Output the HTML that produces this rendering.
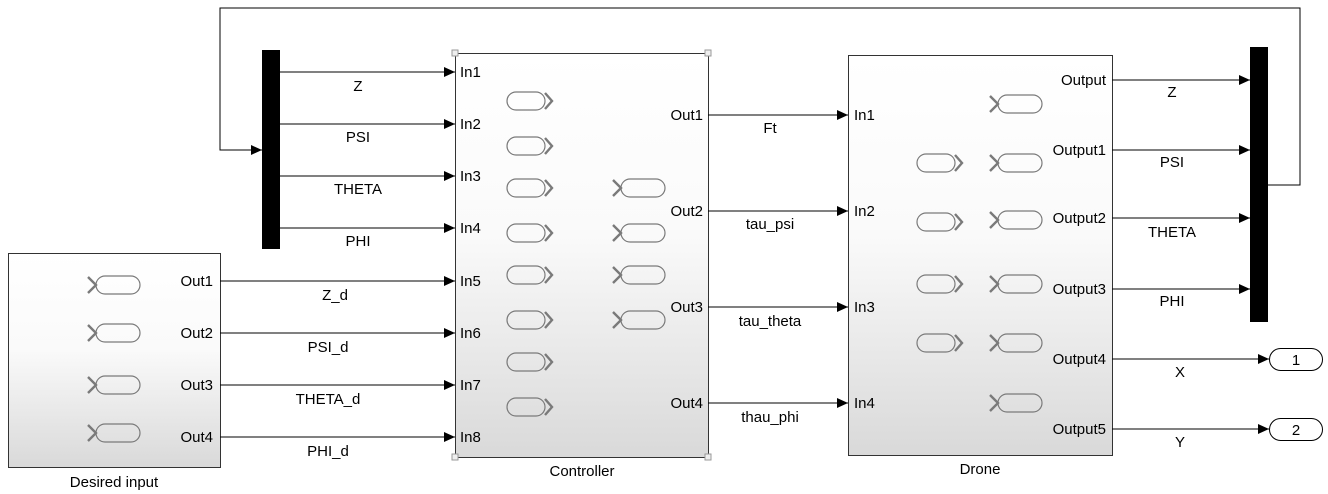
<!DOCTYPE html>
<html><head><style>
html,body{margin:0;padding:0;background:#fff;}
svg{display:block;font-family:"Liberation Sans",Arial,sans-serif;}
</style></head><body>
<svg width="1328" height="494" viewBox="0 0 1328 494" xmlns="http://www.w3.org/2000/svg">
<defs>
<linearGradient id="g" x1="0" y1="0" x2="0" y2="1">
<stop offset="0" stop-color="#fff"/><stop offset="0.45" stop-color="#fafafa"/><stop offset="1" stop-color="#d9d9d9"/>
</linearGradient>
<marker id="ar" markerWidth="12" markerHeight="10" refX="11" refY="5" orient="auto" markerUnits="userSpaceOnUse">
<path d="M0,0 L11,5 L0,10 Z" fill="#000"/></marker>
<g id="A"><rect x="0" y="-9" width="38" height="18" rx="9" fill="none" stroke="#7a7a7a" stroke-width="1.2"/><polyline points="38,-8 45,0 38,8" fill="none" stroke="#7a7a7a" stroke-width="2.4"/></g>
<g id="B"><polyline points="0,-8 8,0 0,8" fill="none" stroke="#7a7a7a" stroke-width="2.4"/><rect x="8" y="-9" width="44" height="18" rx="9" fill="none" stroke="#7a7a7a" stroke-width="1.2"/></g>
</defs>

<rect x="8.5" y="253.5" width="212" height="214" fill="url(#g)" stroke="#333" stroke-width="1"/>
<rect x="455.5" y="53.5" width="253" height="404" fill="url(#g)" stroke="#333" stroke-width="1"/>
<rect x="848.5" y="55.5" width="264" height="400" fill="url(#g)" stroke="#333" stroke-width="1"/>
<g fill="#eee" stroke="#999" stroke-width="1">
<rect x="452" y="50" width="6" height="6"/><rect x="705" y="50" width="6" height="6"/>
<rect x="452" y="454" width="6" height="6"/><rect x="705" y="454" width="6" height="6"/>
</g>
<rect x="262" y="50" width="18" height="199" fill="#000"/>
<rect x="1250" y="47" width="18" height="275" fill="#000"/>

<use href="#B" x="88" y="285"/><use href="#B" x="88" y="333"/><use href="#B" x="88" y="385"/><use href="#B" x="88" y="433"/>
<use href="#A" x="507" y="101"/><use href="#A" x="507" y="146"/><use href="#A" x="507" y="188"/><use href="#A" x="507" y="233"/>
<use href="#A" x="507" y="275"/><use href="#A" x="507" y="320"/><use href="#A" x="507" y="362"/><use href="#A" x="507" y="407"/>
<use href="#B" x="613" y="188"/><use href="#B" x="613" y="233"/><use href="#B" x="613" y="275"/><use href="#B" x="613" y="320"/>
<use href="#A" x="917" y="163"/><use href="#A" x="917" y="222"/><use href="#A" x="917" y="284"/><use href="#A" x="917" y="343"/>
<use href="#B" x="990" y="104"/><use href="#B" x="990" y="163"/><use href="#B" x="990" y="220"/><use href="#B" x="990" y="284"/><use href="#B" x="990" y="343"/><use href="#B" x="990" y="403"/>

<g stroke="#000" stroke-width="1" fill="none" marker-end="url(#ar)">
<line x1="280" y1="72" x2="455" y2="72"/><line x1="280" y1="124" x2="455" y2="124"/>
<line x1="280" y1="176" x2="455" y2="176"/><line x1="280" y1="228" x2="455" y2="228"/>
<line x1="220" y1="281" x2="455" y2="281"/><line x1="220" y1="333" x2="455" y2="333"/>
<line x1="220" y1="385" x2="455" y2="385"/><line x1="220" y1="437" x2="455" y2="437"/>
<line x1="708" y1="115" x2="848" y2="115"/><line x1="708" y1="211" x2="848" y2="211"/>
<line x1="708" y1="307" x2="848" y2="307"/><line x1="708" y1="403" x2="848" y2="403"/>
<line x1="1112" y1="80" x2="1250" y2="80"/><line x1="1112" y1="150" x2="1250" y2="150"/>
<line x1="1112" y1="218" x2="1250" y2="218"/><line x1="1112" y1="289" x2="1250" y2="289"/>
<line x1="1112" y1="359" x2="1269" y2="359"/><line x1="1112" y1="429" x2="1269" y2="429"/>
<polyline points="1268,185 1300,185 1300,8 220,8 220,150 262,150"/>
</g>

<rect x="1269.5" y="348.5" width="53" height="22" rx="11" fill="#fff" stroke="#000"/>
<rect x="1269.5" y="418.5" width="53" height="22" rx="11" fill="#fff" stroke="#000"/>

<g font-size="15" fill="#000">
<text x="1296" y="365" text-anchor="middle">1</text>
<text x="1296" y="435" text-anchor="middle">2</text>
<text x="213" y="286" text-anchor="end">Out1</text><text x="213" y="338" text-anchor="end">Out2</text>
<text x="213" y="390" text-anchor="end">Out3</text><text x="213" y="442" text-anchor="end">Out4</text>
<text x="460" y="77">In1</text><text x="460" y="129">In2</text><text x="460" y="181">In3</text><text x="460" y="233">In4</text>
<text x="460" y="286">In5</text><text x="460" y="338">In6</text><text x="460" y="390">In7</text><text x="460" y="442">In8</text>
<text x="703" y="120" text-anchor="end">Out1</text><text x="703" y="216" text-anchor="end">Out2</text>
<text x="703" y="312" text-anchor="end">Out3</text><text x="703" y="408" text-anchor="end">Out4</text>
<text x="854" y="120">In1</text><text x="854" y="216">In2</text><text x="854" y="312">In3</text><text x="854" y="408">In4</text>
<text x="1106" y="85" text-anchor="end">Output</text><text x="1106" y="155" text-anchor="end">Output1</text>
<text x="1106" y="223" text-anchor="end">Output2</text><text x="1106" y="294" text-anchor="end">Output3</text>
<text x="1106" y="364" text-anchor="end">Output4</text><text x="1106" y="434" text-anchor="end">Output5</text>
<text x="114" y="487" text-anchor="middle">Desired input</text>
<text x="582" y="476" text-anchor="middle">Controller</text>
<text x="980" y="474" text-anchor="middle">Drone</text>
<text x="358" y="91" text-anchor="middle">Z</text><text x="358" y="142" text-anchor="middle">PSI</text>
<text x="358" y="194" text-anchor="middle">THETA</text><text x="358" y="246" text-anchor="middle">PHI</text>
<text x="335" y="300" text-anchor="middle">Z_d</text><text x="328" y="352" text-anchor="middle">PSI_d</text>
<text x="328" y="404" text-anchor="middle">THETA_d</text><text x="328" y="456" text-anchor="middle">PHI_d</text>
<text x="770" y="133" text-anchor="middle">Ft</text><text x="770" y="229" text-anchor="middle">tau_psi</text>
<text x="770" y="326" text-anchor="middle">tau_theta</text><text x="770" y="422" text-anchor="middle">thau_phi</text>
<text x="1172" y="97" text-anchor="middle">Z</text><text x="1172" y="167" text-anchor="middle">PSI</text>
<text x="1172" y="237" text-anchor="middle">THETA</text><text x="1172" y="306" text-anchor="middle">PHI</text>
<text x="1180" y="377" text-anchor="middle">X</text><text x="1180" y="447" text-anchor="middle">Y</text>
</g>
</svg>
</body></html>
